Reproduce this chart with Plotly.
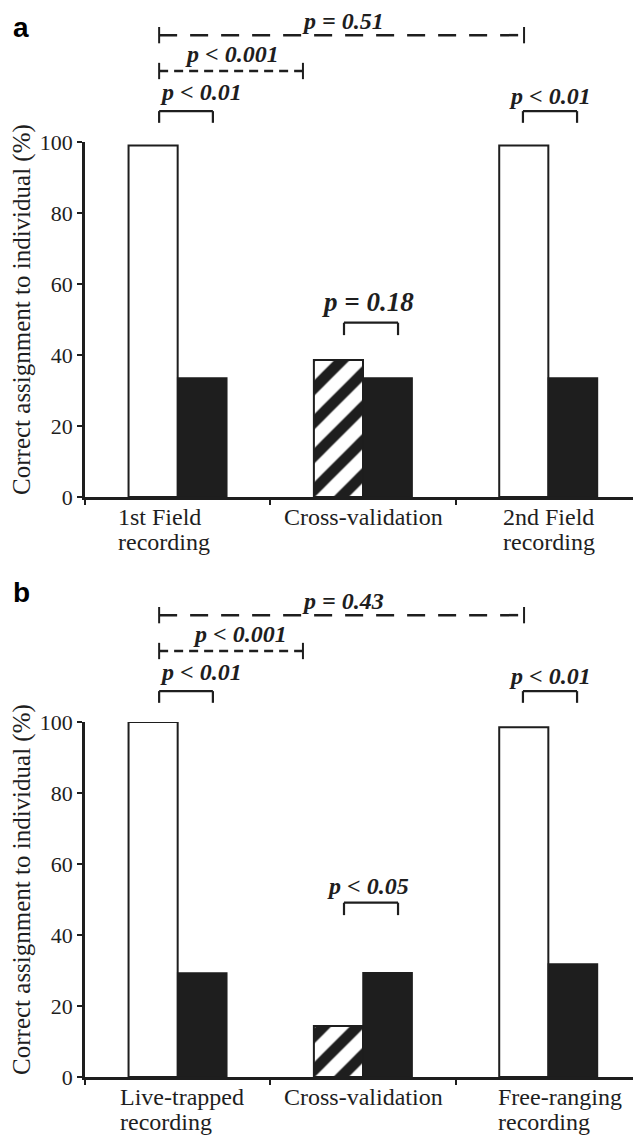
import plotly.graph_objects as go

# ---------------- data ----------------
cats_a = ["1st Field recording", "Cross-validation", "2nd Field recording"]
label_lines_a = [["1st Field", "recording"], ["Cross-validation"], ["2nd Field", "recording"]]
observed_a = [99.0, 38.6, 99.0]      # white / hatched bars
random_a = [33.5, 33.5, 33.5]        # black bars

cats_b = ["Live-trapped recording", "Cross-validation", "Free-ranging recording"]
label_lines_b = [["Live-trapped", "recording"], ["Cross-validation"], ["Free-ranging", "recording"]]
observed_b = [100.0, 14.4, 98.5]
random_b = [29.3, 29.4, 31.8]

y_ticks = [0, 20, 40, 60, 80, 100]
y_title = "Correct assignment to individual (%)"

p_text_a = ["p = 0.51", "p < 0.001", "p < 0.01", "p < 0.01", "p = 0.18"]
p_text_b = ["p = 0.43", "p < 0.001", "p < 0.01", "p < 0.01", "p < 0.05"]

# ---------------- layout ----------------
W, H = 633, 1130          # page body adds an 8px margin around the figure
dom_x = [77 / W, 1]
dom_a = [1 - 489 / H, 1 - 134 / H]
dom_b = [1 - 1069 / H, 1 - 714 / H]

SERIF = "Liberation Serif"
INK = "#1e1e1e"

fig = go.Figure()


def add_panel(cats, obs, rnd, xa, ya):
    fig.add_trace(go.Bar(
        x=cats, y=obs, xaxis=xa, yaxis=ya, cliponaxis=False,
        marker=dict(color="white", line=dict(color=INK, width=2),
                    pattern=dict(shape=["", "/", ""], fgcolor=INK, bgcolor="white",
                                 fgopacity=1, size=24, solidity=0.45, fillmode="overlay")),
        showlegend=False, hoverinfo="skip"))
    fig.add_trace(go.Bar(
        x=cats, y=rnd, xaxis=xa, yaxis=ya, cliponaxis=False,
        marker=dict(color=INK, line=dict(color=INK, width=1.5)),
        showlegend=False, hoverinfo="skip"))


add_panel(cats_a, observed_a, random_a, "x", "y")
add_panel(cats_b, observed_b, random_b, "x2", "y2")

xax = dict(type="category", range=[-0.5, 2.5], showline=True, linecolor=INK, linewidth=2.5,
           ticks="outside", tickson="boundaries", ticklen=5, tickwidth=2, tickcolor=INK,
           showticklabels=False, showgrid=False, zeroline=False, domain=dom_x,
           automargin=False, fixedrange=True)
yax = dict(range=[0, 100], tickvals=y_ticks, showline=True, linecolor=INK, linewidth=2.5,
           ticks="outside", ticklen=5, tickwidth=2, tickcolor=INK, showgrid=False, zeroline=False,
           automargin=False, fixedrange=True,
           tickfont=dict(family=SERIF, size=22, color=INK))

fig.update_layout(
    width=W, height=H, margin=dict(l=0, r=0, t=0, b=0, pad=0),
    paper_bgcolor="white", plot_bgcolor="white",
    barmode="group", bargap=0.47, bargroupgap=0,
    xaxis=dict(xax, anchor="y"), yaxis=dict(yax, anchor="x", domain=dom_a),
    xaxis2=dict(xax, anchor="y2"), yaxis2=dict(yax, anchor="x2", domain=dom_b),
)

# significance marks (x in category units, y in % of the axis)
long_span = (-0.10, 1.869, 130.1)
short_span = (-0.10, 0.676, 120.0)
brk_left = (-0.10, 0.19, 108.7, 105.4)
brk_right = (1.863, 2.155, 108.7, 105.4)
brk_mid = (0.8975, 1.189, 49.1, 45.6)
cap = 2.3

shapes = []
annotations = []


def line(xr, yr, x0, y0, x1, y1, dash="solid", w=2.2):
    shapes.append(dict(type="line", xref=xr, yref=yr + " domain", x0=x0, x1=x1,
                       y0=y0 / 100, y1=y1 / 100, line=dict(color=INK, width=w, dash=dash)))


def ptext(xr, yr, x, y, txt, size=24):
    annotations.append(dict(xref=xr, yref=yr + " domain", x=x, y=y / 100, text=txt,
                            showarrow=False, xanchor="center", yanchor="middle",
                            font=dict(family=SERIF, size=size, color=INK,
                                      weight="bold", style="italic")))


def add_marks(xr, yr, texts, short_lx, mid_ly, mid_size):
    x0, x1, y = long_span
    line(xr, yr, x0, y, x1, y, dash="18px,13px", w=2.5)
    line(xr, yr, x0, y - cap, x0, y + cap, w=2)
    line(xr, yr, x1, y - cap, x1, y + cap, w=2)
    x0, x1, y = short_span
    line(xr, yr, x0, y, x1, y, dash="9px,6px", w=2.5)
    line(xr, yr, x0, y - cap, x0, y + cap, w=2)
    line(xr, yr, x1, y - cap, x1, y + cap, w=2)
    for (a, b, top, bot) in (brk_left, brk_right, brk_mid):
        line(xr, yr, a, top, b, top)
        line(xr, yr, a, top, a, bot)
        line(xr, yr, b, top, b, bot)
    ptext(xr, yr, 0.892, 134.0, texts[0])
    ptext(xr, yr, short_lx, 124.7, texts[1])
    ptext(xr, yr, 0.126, 114.0, texts[2])
    ptext(xr, yr, 2.009, 112.9, texts[3])
    ptext(xr, yr, 1.027, mid_ly, texts[4], size=mid_size)


add_marks("x", "y", p_text_a, 0.293, 54.8, 27)
add_marks("x2", "y2", p_text_b, 0.336, 53.7, 24)

# y-axis titles
for yr in ("y", "y2"):
    annotations.append(dict(xref="paper", yref=yr + " domain", x=14 / W, y=0.527,
                            xanchor="center", yanchor="middle", textangle=-90,
                            text=y_title, showarrow=False,
                            font=dict(family=SERIF, size=25, color=INK)))

# category labels: lines left-aligned, placed under each group
left_a = [-0.333, -0.437, -0.255]
left_b = [-0.322, -0.437, -0.282]
for xr, yr, lines_all, lefts in (("x", "y", label_lines_a, left_a), ("x2", "y2", label_lines_b, left_b)):
    for i, (lines, off) in enumerate(zip(lines_all, lefts)):
        for k, txt in enumerate(lines):
            annotations.append(dict(xref=xr, yref=yr + " domain", x=i + off, y=0,
                                    xanchor="left", yanchor="middle", yshift=-20 - 25 * k,
                                    text=txt, showarrow=False,
                                    font=dict(family=SERIF, size=24, color=INK)))

# panel letters
for letter, py in (("a", 19), ("b", 584)):
    annotations.append(dict(xref="paper", yref="paper", x=13 / W, y=1 - py / H, text=letter,
                            showarrow=False, xanchor="center", yanchor="middle",
                            font=dict(family="Liberation Sans", size=28, color="black",
                                      weight="bold")))

fig.update_layout(shapes=shapes, annotations=annotations)
fig.write_html("out.html")
